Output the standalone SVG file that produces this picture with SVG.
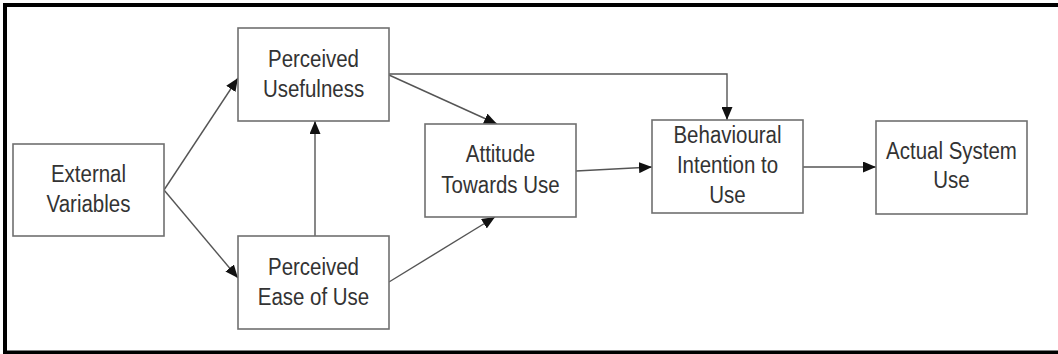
<svg xmlns="http://www.w3.org/2000/svg" width="1058" height="354" viewBox="0 0 1058 354">
<style>
.box{fill:#fff;stroke:#707070;stroke-width:1.6}
.t{font-family:"Liberation Sans",Arial,sans-serif;font-size:23px;fill:#333;text-anchor:middle}
.c{fill:none;stroke:#555;stroke-width:1.4}
</style>
<defs>
<marker id="ah" viewBox="0 0 13 11" refX="13" refY="5.5" markerWidth="13" markerHeight="11" markerUnits="userSpaceOnUse" orient="auto">
<path d="M0,0 L13,5.5 L0,11 Z" fill="#111"/>
</marker>
</defs>
<rect x="0" y="0" width="1058" height="354" fill="#fff"/>
<rect x="5" y="5" width="1070" height="347.5" fill="none" stroke="#000" stroke-width="4"/>
<g id="connectors">
<line class="c" x1="164" y1="190" x2="238" y2="78" marker-end="url(#ah)"/>
<line class="c" x1="164" y1="190" x2="238" y2="278" marker-end="url(#ah)"/>
<line class="c" x1="315" y1="236" x2="315" y2="121" marker-end="url(#ah)"/>
<line class="c" x1="389" y1="75" x2="497" y2="124" marker-end="url(#ah)"/>
<polyline class="c" points="389,74 727,74 727,120" marker-end="url(#ah)"/>
<line class="c" x1="389" y1="282" x2="495" y2="217" marker-end="url(#ah)"/>
<line class="c" x1="576" y1="171" x2="652" y2="167" marker-end="url(#ah)"/>
<line class="c" x1="803" y1="167" x2="876" y2="167" marker-end="url(#ah)"/>
</g>
<g id="external">
<rect class="box" x="13" y="144" width="151" height="92"/>
<text class="t" transform="translate(88.5,182) scale(0.89,1)">External</text>
<text class="t" transform="translate(88.5,212) scale(0.89,1)">Variables</text>
</g>
<g id="usefulness">
<rect class="box" x="238" y="28" width="151" height="93"/>
<text class="t" transform="translate(313.5,67) scale(0.89,1)">Perceived</text>
<text class="t" transform="translate(313.5,97) scale(0.89,1)">Usefulness</text>
</g>
<g id="ease">
<rect class="box" x="238" y="236" width="151" height="93"/>
<text class="t" transform="translate(313.5,275) scale(0.89,1)">Perceived</text>
<text class="t" transform="translate(313.5,305) scale(0.89,1)">Ease of Use</text>
</g>
<g id="attitude">
<rect class="box" x="425" y="124" width="151" height="93"/>
<text class="t" transform="translate(500.5,162) scale(0.89,1)">Attitude</text>
<text class="t" transform="translate(500.5,193) scale(0.89,1)">Towards Use</text>
</g>
<g id="intention">
<rect class="box" x="652" y="120" width="151" height="93"/>
<text class="t" transform="translate(727.5,143) scale(0.89,1)">Behavioural</text>
<text class="t" transform="translate(727.5,173) scale(0.89,1)">Intention to</text>
<text class="t" transform="translate(727.5,203) scale(0.89,1)">Use</text>
</g>
<g id="actual">
<rect class="box" x="876" y="121" width="151" height="93"/>
<text class="t" transform="translate(951.5,159) scale(0.89,1)">Actual System</text>
<text class="t" transform="translate(951.5,188) scale(0.89,1)">Use</text>
</g>
</svg>
